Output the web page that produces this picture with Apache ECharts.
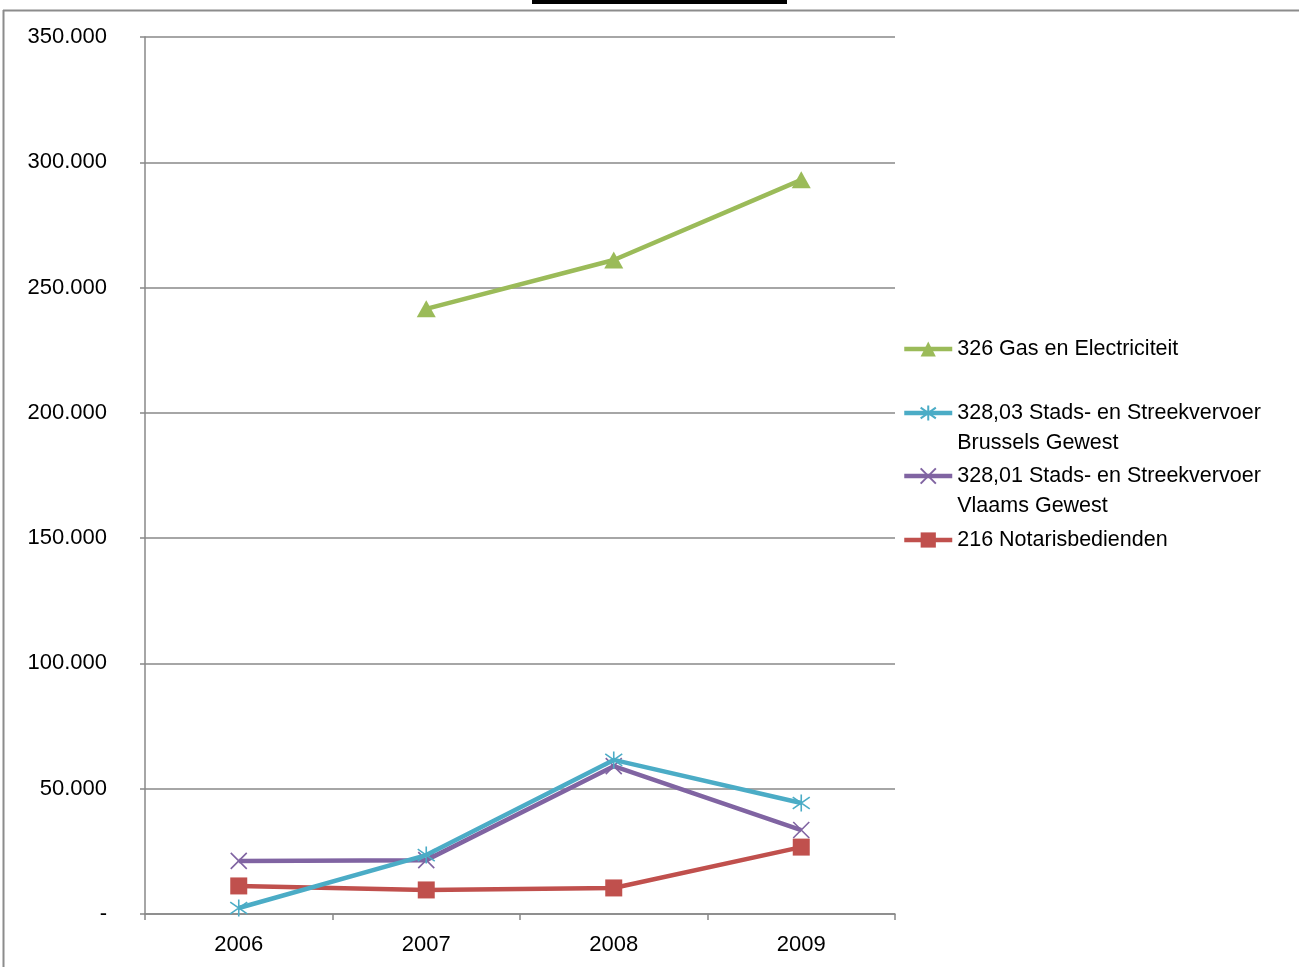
<!DOCTYPE html>
<html>
<head>
<meta charset="utf-8">
<script src="https://cdn.jsdelivr.net/npm/echarts@6/dist/echarts.min.js"></script>
<style>html,body{margin:0;padding:0;background:#fff;}#c{width:1299px;height:967px;}</style>
</head>
<body>
<div id="c"></div>
<script>
const categories = ['2006', '2007', '2008', '2009'];
const seriesNames = [
  '326 Gas en Electriciteit',
  '328,03 Stads- en Streekvervoer Brussels Gewest',
  '328,01 Stads- en Streekvervoer Vlaams Gewest',
  '216 Notarisbedienden'
];
const gasValues = [null, 241500, 261000, 293000];
const brusselsValues = [2400, 23500, 61500, 44300];
const vlaamsValues = [21200, 21500, 59000, 33500];
const notarisValues = [11200, 9600, 10400, 26700];
const yTickLabels = ['-', '50.000', '100.000', '150.000', '200.000', '250.000', '300.000', '350.000'];
const legendLines = {
  '326 Gas en Electriciteit': '326 Gas en Electriciteit',
  '328,03 Stads- en Streekvervoer Brussels Gewest': ' \n328,03 Stads- en Streekvervoer\nBrussels Gewest',
  '328,01 Stads- en Streekvervoer Vlaams Gewest': ' \n328,01 Stads- en Streekvervoer\nVlaams Gewest',
  '216 Notarisbedienden': '216 Notarisbedienden'
};

const colors = ['#9BBB59', '#4BACC6', '#8064A2', '#C0504D'];
const FONT = '"Liberation Sans", Arial, sans-serif';
const chart = echarts.init(document.getElementById('c'), null, {renderer: 'canvas'});

function mkSeries(i, data, symbol, size, extra) {
  return Object.assign({
    name: seriesNames[i],
    type: 'line',
    data: data,
    symbol: symbol,
    symbolSize: size,
    connectNulls: false,
    lineStyle: {color: colors[i], width: 4.5},
    itemStyle: {color: colors[i], borderColor: colors[i], borderWidth: 0},
    emphasis: {disabled: true},
    animation: false,
    z: 10 - i
  }, extra || {});
}

function mkLegend(i, top) {
  return {
    show: true,
    orient: 'vertical',
    left: 902,
    top: top,
    padding: 0,
    itemWidth: 48,
    itemHeight: 19,
    data: [seriesNames[i]],
    formatter: function (n) { return legendLines[n]; },
    selectedMode: false,
    lineStyle: {width: 4.5},
    textStyle: {
      fontFamily: FONT,
      fontSize: 21.5,
      color: '#000',
      lineHeight: 30
    }
  };
}

chart.setOption({
  animation: false,
  backgroundColor: '#fff',
  grid: {left: 145, right: 404, top: 37, bottom: 53, containLabel: false},
  legend: [
    mkLegend(0, 334),
    mkLegend(1, 368),
    mkLegend(2, 431),
    mkLegend(3, 525)
  ],
  xAxis: {
    type: 'category',
    data: categories,
    boundaryGap: true,
    axisLine: {show: true, lineStyle: {color: '#888', width: 1.5}},
    axisTick: {show: true, alignWithLabel: false, length: 6, lineStyle: {color: '#888', width: 1.5}},
    axisLabel: {color: '#000', fontFamily: FONT, fontSize: 22, margin: 20},
    splitLine: {show: false}
  },
  yAxis: {
    type: 'value',
    min: 0,
    max: 350000,
    interval: 50000,
    axisLine: {show: true, lineStyle: {color: '#888', width: 1.5}},
    axisTick: {show: true, length: 5, lineStyle: {color: '#888', width: 1.5}},
    axisLabel: {
      color: '#000', fontFamily: FONT, fontSize: 22, margin: 38,
      formatter: function (v) { return yTickLabels[Math.round(v / 50000)]; }
    },
    splitLine: {show: true, lineStyle: {color: '#888', width: 1.5}}
  },
  series: [
    mkSeries(0, gasValues, 'triangle', [19, 17]),
    mkSeries(1, brusselsValues, 'path://M5,0L5,10M0,1.5L10,8.5M10,1.5L0,8.5', 17, {itemStyle: {color: colors[1], borderColor: colors[1], borderWidth: 1.6}}),
    mkSeries(2, vlaamsValues, 'path://M0,0L10,10M10,0L0,10', 16, {itemStyle: {color: colors[2], borderColor: colors[2], borderWidth: 1.6}}),
    mkSeries(3, notarisValues, 'rect', 17)
  ],
  graphic: [
    {type: 'line', shape: {x1: 3, y1: 10.5, x2: 1299, y2: 10.5}, style: {stroke: '#8c8c8c', lineWidth: 2}, silent: true},
    {type: 'line', shape: {x1: 3.5, y1: 10, x2: 3.5, y2: 967}, style: {stroke: '#8c8c8c', lineWidth: 2}, silent: true},
    {type: 'rect', shape: {x: 532, y: 0, width: 255, height: 4}, style: {fill: '#000'}, silent: true}
  ]
});
</script>
</body>
</html>
